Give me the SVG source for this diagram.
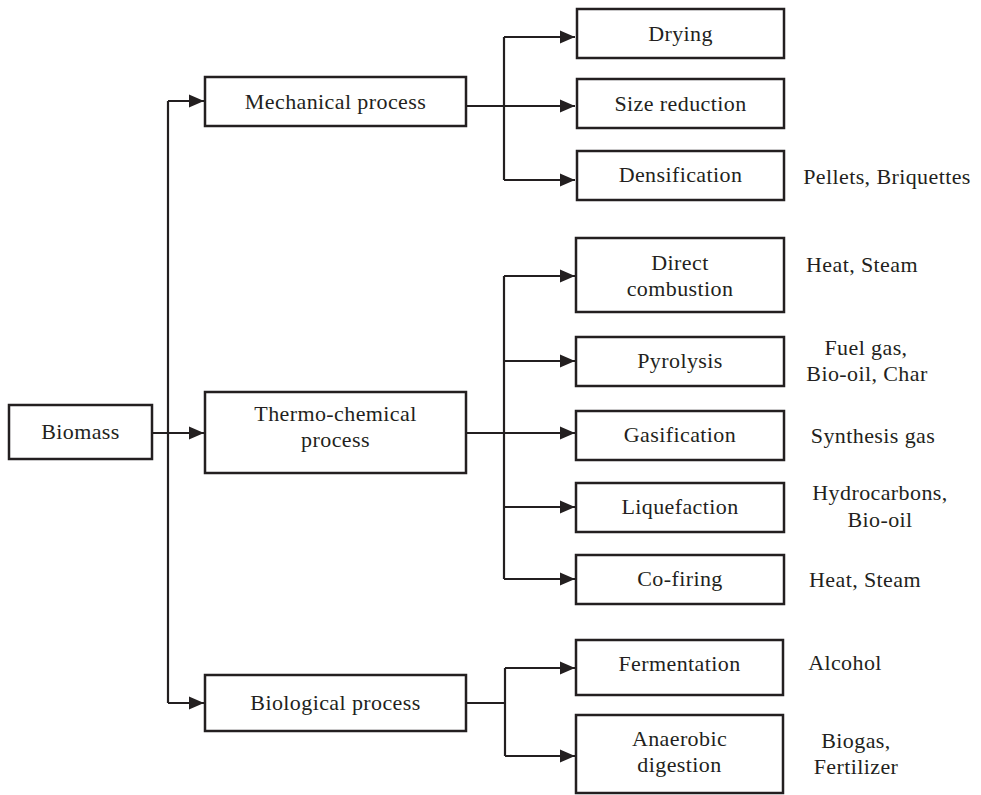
<svg xmlns="http://www.w3.org/2000/svg" width="981" height="795" viewBox="0 0 981 795">
<style>
.box{fill:#fff;stroke:#231f20;stroke-width:2.5}
.ln{fill:none;stroke:#231f20;stroke-width:2.2}
text{font-family:"Liberation Serif","DejaVu Serif",serif;font-size:22px;letter-spacing:0.4px;fill:#231f20;text-anchor:middle}
</style>
<defs>
<marker id="ah" markerUnits="userSpaceOnUse" markerWidth="16" markerHeight="14" refX="15" refY="7" orient="auto">
<path d="M0,0.5 L15,7 L0,13.5 Z" fill="#231f20"/>
</marker>
</defs>
<rect width="981" height="795" fill="#fff"/>
<g id="connectors">
<path class="ln" d="M152,433 H204" marker-end="url(#ah)"/>
<path class="ln" d="M168,101 V703"/>
<path class="ln" d="M168,101 H204" marker-end="url(#ah)"/>
<path class="ln" d="M168,703 H204" marker-end="url(#ah)"/>
<path class="ln" d="M466,106 H575" marker-end="url(#ah)"/>
<path class="ln" d="M504,37 V180"/>
<path class="ln" d="M504,37 H575" marker-end="url(#ah)"/>
<path class="ln" d="M504,180 H575" marker-end="url(#ah)"/>
<path class="ln" d="M466,433 H575" marker-end="url(#ah)"/>
<path class="ln" d="M504,276 V579"/>
<path class="ln" d="M504,276 H575" marker-end="url(#ah)"/>
<path class="ln" d="M504,361 H575" marker-end="url(#ah)"/>
<path class="ln" d="M504,507 H575" marker-end="url(#ah)"/>
<path class="ln" d="M504,579 H575" marker-end="url(#ah)"/>
<path class="ln" d="M466,703 H505"/>
<path class="ln" d="M505,668 V756"/>
<path class="ln" d="M505,668 H575" marker-end="url(#ah)"/>
<path class="ln" d="M505,756 H575" marker-end="url(#ah)"/>
</g>
<g id="biomass"><rect class="box" x="9" y="405" width="143" height="54"/><text x="80.5" y="439">Biomass</text></g>
<g id="mechanical"><rect class="box" x="205" y="77" width="261" height="49"/><text x="335.5" y="108.5">Mechanical process</text></g>
<g id="thermo"><rect class="box" x="205" y="392" width="261" height="81"/><text x="335.5" y="421">Thermo-chemical</text><text x="335.5" y="447">process</text></g>
<g id="biological"><rect class="box" x="205" y="675" width="261" height="56"/><text x="335.5" y="710">Biological process</text></g>
<g id="drying"><rect class="box" x="577" y="9" width="207" height="49"/><text x="680.5" y="40.5">Drying</text></g>
<g id="size"><rect class="box" x="577" y="79" width="207" height="49"/><text x="680.5" y="110.5">Size reduction</text></g>
<g id="densification"><rect class="box" x="577" y="151" width="207" height="49"/><text x="680.5" y="182">Densification</text><text x="887" y="184">Pellets, Briquettes</text></g>
<g id="direct"><rect class="box" x="576" y="238" width="208" height="74"/><text x="680" y="270">Direct</text><text x="680" y="296">combustion</text><text x="862" y="272">Heat, Steam</text></g>
<g id="pyrolysis"><rect class="box" x="576" y="337" width="208" height="49"/><text x="680" y="368">Pyrolysis</text><text x="866" y="355">Fuel gas,</text><text x="867" y="381">Bio-oil, Char</text></g>
<g id="gasification"><rect class="box" x="576" y="411" width="208" height="49"/><text x="680" y="442">Gasification</text><text x="873" y="443">Synthesis gas</text></g>
<g id="liquefaction"><rect class="box" x="576" y="483" width="208" height="49"/><text x="680" y="514">Liquefaction</text><text x="880" y="500">Hydrocarbons,</text><text x="880" y="527">Bio-oil</text></g>
<g id="cofiring"><rect class="box" x="576" y="555" width="208" height="49"/><text x="680" y="586">Co-firing</text><text x="865" y="587">Heat, Steam</text></g>
<g id="fermentation"><rect class="box" x="576" y="640" width="207" height="55"/><text x="679.5" y="671">Fermentation</text><text x="845" y="670">Alcohol</text></g>
<g id="anaerobic"><rect class="box" x="576" y="715" width="207" height="78"/><text x="679.5" y="746">Anaerobic</text><text x="679.5" y="772">digestion</text><text x="856" y="748">Biogas,</text><text x="856" y="774">Fertilizer</text></g>
</svg>
